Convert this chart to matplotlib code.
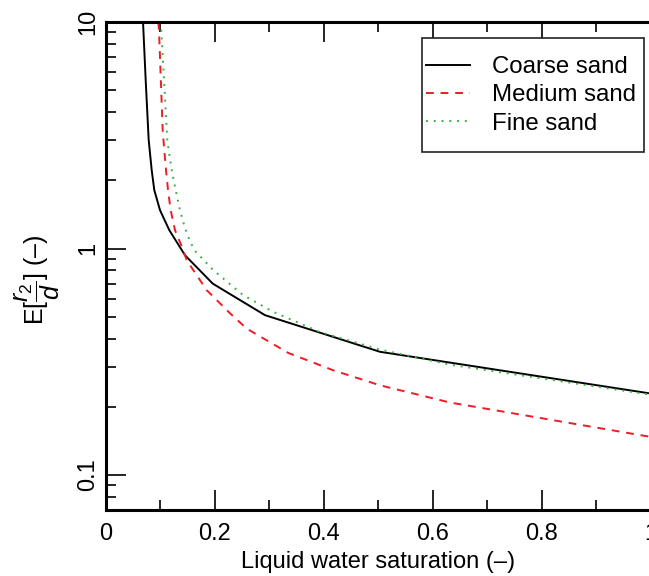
import matplotlib
matplotlib.use("Agg")
import matplotlib.pyplot as plt
from matplotlib.patches import Rectangle
import numpy as np

plt.rcParams['font.family'] = ['Liberation Sans', 'DejaVu Sans']
plt.rcParams['mathtext.fontset'] = 'custom'
plt.rcParams['mathtext.rm'] = 'Liberation Sans'
plt.rcParams['mathtext.it'] = 'Liberation Sans:italic'

# Data
coarse_x = [0.0680, 0.0729, 0.0784, 0.0803, 0.0839, 0.0887, 0.0992, 0.1163, 0.1377, 0.1451, 0.1960, 0.2920, 0.5032, 0.9954]
coarse_y = [10.0, 5.53, 3.01, 2.71, 2.22, 1.81, 1.476, 1.205, 0.997, 0.934, 0.70, 0.508, 0.35, 0.230]

medium_x = [0.0961, 0.0973, 0.1041, 0.1071, 0.1102, 0.1139, 0.1188, 0.1267, 0.1409, 0.1482, 0.1849, 0.2277, 0.2584, 0.3348, 0.4174, 0.5032, 0.6318, 0.9960]
medium_y = [10.0, 9.2, 3.33, 2.71, 2.22, 1.81, 1.476, 1.205, 0.997, 0.888, 0.655, 0.518, 0.443, 0.346, 0.290, 0.249, 0.209, 0.148]

fine_x = [0.1001, 0.1010, 0.1126, 0.1152, 0.1207, 0.1280, 0.1359, 0.1451, 0.1530, 0.1622, 0.1971, 0.2522, 0.3073, 0.3930, 0.5032, 0.6318, 0.9960]
fine_y = [10.0, 9.7, 3.01, 2.71, 2.22, 1.81, 1.476, 1.23, 1.096, 0.983, 0.802, 0.622, 0.525, 0.428, 0.358, 0.307, 0.227]

labels = ["Coarse sand", "Medium sand", "Fine sand"]
xticks = [0, 0.2, 0.4, 0.6, 0.8, 1.0]
xticklabels = ["0", "0.2", "0.4", "0.6", "0.8", "1"]
yticks = [0.1, 1, 10]
yticklabels = ["0.1", "1", "10"]

W, H = 649, 576
fig = plt.figure(figsize=(W / 100, H / 100), dpi=100)
ax = fig.add_axes([106 / W, 1 - 510 / H, (650.5 - 106) / W, (510 - 22) / H])

ax.plot(coarse_x, coarse_y, color='black', lw=1.4, ls='-', label=labels[0])
ax.plot(medium_x, medium_y, color='#ee1c25', lw=1.4, ls=(0, (4, 3.5)), label=labels[1])
ax.plot(fine_x, fine_y, color='#3cb043', lw=1.4, ls=(0, (1, 3)), label=labels[2])

ax.set_yscale('log')
ax.set_xlim(0, 1.0)
ax.set_ylim(0.0701, 10)

ax.set_xticks(xticks)
ax.set_xticklabels(xticklabels)
ax.set_xticks(np.arange(0.1, 1.0, 0.2), minor=True)
ax.set_yticks(yticks)
ax.set_yticklabels(yticklabels, rotation=90, va='center')
minor_y = [v * 10.0 ** e for e in (-2, -1, 0) for v in range(2, 10)]
ax.set_yticks([m for m in minor_y if 0.0701 <= m <= 10], minor=True)
ax.yaxis.set_minor_formatter(matplotlib.ticker.NullFormatter())

ax.tick_params(which='major', direction='in', length=14.4, width=1.2, labelsize=17,
               top=True, right=False, pad=9)
ax.tick_params(which='minor', direction='in', length=7.2, width=1.2, top=True, right=False)
ax.tick_params(axis='y', which='major', pad=5)

for s in ['left', 'bottom', 'top']:
    ax.spines[s].set_linewidth(2.2)
ax.spines['right'].set_visible(False)

ax.set_xlabel("Liquid water saturation (–)", fontsize=17, labelpad=5)
ax.set_ylabel(r"E$[\dfrac{r_2}{d}]$ (–)", fontsize=18)
ax.yaxis.set_label_coords(-0.081, 0.471)

# legend box (frame drawn separately to match the reference padding)
box = Rectangle((421.7 / W, 1 - 151.7 / H), (644 - 421.7) / W, (151.7 - 38) / H,
                transform=fig.transFigure, facecolor='white', edgecolor='#222222',
                lw=1.2, zorder=5, clip_on=False)
ax.add_artist(box)
leg = ax.legend(loc='center left', bbox_to_anchor=(426 / W, 1 - 95.5 / H),
                bbox_transform=fig.transFigure, fontsize=17.3, frameon=False,
                handlelength=1.83, handletextpad=0.9,
                labelspacing=0.26, borderpad=0, borderaxespad=0)
leg.set_zorder(6)

fig.savefig("out.png", dpi=100)
